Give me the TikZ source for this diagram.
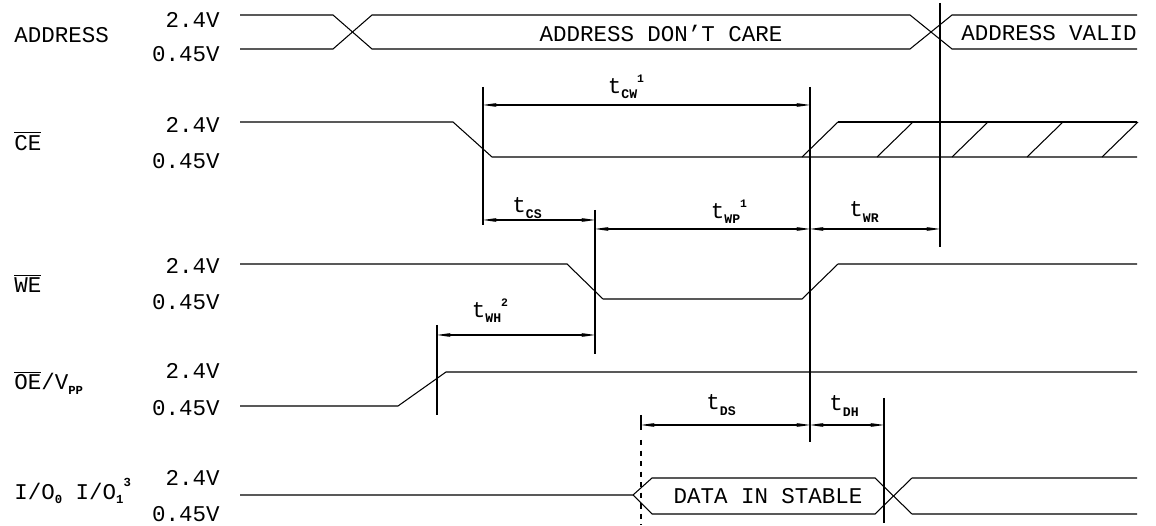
\documentclass[tikz,border=0pt]{standalone}
\usepackage{fontspec}
\setmainfont{Liberation Mono}
\usetikzlibrary{arrows.meta}
\tikzset{
    sig/.style={line width=0.6pt, line join=miter},
    ext/.style={line width=0.7pt},
    dim/.style={line width=0.6pt,
        {Stealth[length=0.28cm,width=0.08cm]}-{Stealth[length=0.28cm,width=0.08cm]}},
    lbl/.style={font=\fontsize{12.8}{14}\selectfont, inner sep=0pt},
    volt/.style={lbl, anchor=east},
    signame/.style={lbl, anchor=west}
}
\newcommand{\tdel}[2]{t\raisebox{-0.45ex}{\fontsize{7.5}{8}\selectfont\bfseries #1}\raisebox{0.9ex}{\fontsize{6.5}{7}\selectfont\bfseries #2}}
\newcommand{\subb}[1]{\raisebox{-0.4ex}{\fontsize{7}{8}\selectfont\bfseries #1}}

\begin{document}
\begin{tikzpicture}[x=0.02cm, y=-0.02cm]
    \useasboundingbox (0,0) rectangle (1156,526);

    % Signal names
    \node[signame] (nad) at (14,35) {ADDRESS};
    \node[signame] (nce) at (14,141) {$\overline{\mbox{CE}}$};
    \node[signame] (nwe) at (14,283) {$\overline{\mbox{WE}}$};
    \node[signame] (noe) at (14,383) {$\overline{\mbox{OE}}$/V\subb{PP}};
    \node[signame] (nio) at (14,491) {I/O\subb{0} I/O\subb{1}\raisebox{1.1ex}{\fontsize{7}{8}\selectfont\bfseries 3}};

    % Voltage levels
    \node[volt] (adh) at (220,20) {2.4V};
    \node[volt] (adl) at (220,54) {0.45V};
    \node[volt] (ceh) at (220,125) {2.4V};
    \node[volt] (cel) at (220,161) {0.45V};
    \node[volt] (weh) at (220,266) {2.4V};
    \node[volt] (wel) at (220,302) {0.45V};
    \node[volt] (oeh) at (220,371) {2.4V};
    \node[volt] (oel) at (220,408) {0.45V};
    \node[volt] (ioh) at (220,478) {2.4V};
    \node[volt] (iol) at (220,514) {0.45V};

    % ADDRESS
    \draw[sig] (240,15) -- (333,15) -- (372,49) -- (910,49) -- (952,15) -- (1137,15);
    \draw[sig] (240,49) -- (333,49) -- (372,15) -- (910,15) -- (952,49) -- (1137,49);
    \node[lbl] (dontcare) at (661,33) {ADDRESS DON'T CARE};
    \node[lbl] (valid) at (1049,33) {ADDRESS VALID};

    % CE
    \draw[sig] (240,122) -- (453,122) -- (492,157) -- (1137,157);
    \draw[sig] (838,122) -- (1137,122);
    \foreach \hx in {802,877,952,1027,1102}
        \draw[sig] (\hx,157) -- (\hx+36,122);

    % WE
    \draw[sig] (240,264) -- (567,264) -- (603,299) -- (802,299) -- (838,264) -- (1137,264);

    % OE / Vpp
    \draw[sig] (240,406) -- (398,406) -- (446,372) -- (1137,372);

    % I/O
    \draw[sig] (240,495) -- (633,495) -- (652,478) -- (875,478) -- (912,514) -- (1137,514);
    \draw[sig] (633,495) -- (652,514) -- (875,514) -- (912,478) -- (1137,478);
    \node[lbl] (stable) at (768,496) {DATA IN STABLE};

    % Reference lines
    \coordinate (e1t) at (483,87);  \coordinate (e1b) at (483,225);
    \coordinate (e2t) at (810,87);  \coordinate (e2b) at (810,442);
    \coordinate (e3t) at (940,3);   \coordinate (e3b) at (940,247);
    \coordinate (e4t) at (595,210); \coordinate (e4b) at (595,354);
    \coordinate (e5t) at (437,325); \coordinate (e5b) at (437,415);
    \coordinate (e6t) at (641,415); \coordinate (e6b) at (641,525);
    \coordinate (e7t) at (884,398); \coordinate (e7b) at (884,523);
    \foreach \e in {1,2,3,4,5,7}
        \draw[ext] (e\e t) -- (e\e b);
    \draw[ext] (e6t) -- (641,430);
    \draw[ext, dashed] (641,440) -- (e6b);

    % Timing arrows
    \draw[dim] (e1t |- 0,105) -- (e2t |- 0,105);
    \draw[dim] (e1t |- 0,220) -- (e4t |- 0,220);
    \draw[dim] (e4t |- 0,229) -- (e2t |- 0,229);
    \draw[dim] (e2t |- 0,229) -- (e3t |- 0,229);
    \draw[dim] (e5t |- 0,335) -- (e4t |- 0,335);
    \draw[dim] (e6t |- 0,425) -- (e2t |- 0,425);
    \draw[dim] (e2t |- 0,425) -- (e7t |- 0,425);

    % Timing labels
    \node[lbl] (tcw) at (626,87) {\tdel{CW}{1}};
    \node[lbl] (tcs) at (527,208) {\tdel{CS}{}};
    \node[lbl] (twp) at (729,212) {\tdel{WP}{1}};
    \node[lbl] (twr) at (864,212) {\tdel{WR}{}};
    \node[lbl] (twh) at (490,311) {\tdel{WH}{2}};
    \node[lbl] (tds) at (721,405) {\tdel{DS}{}};
    \node[lbl] (tdh) at (844,406) {\tdel{DH}{}};
\end{tikzpicture}
\end{document}
